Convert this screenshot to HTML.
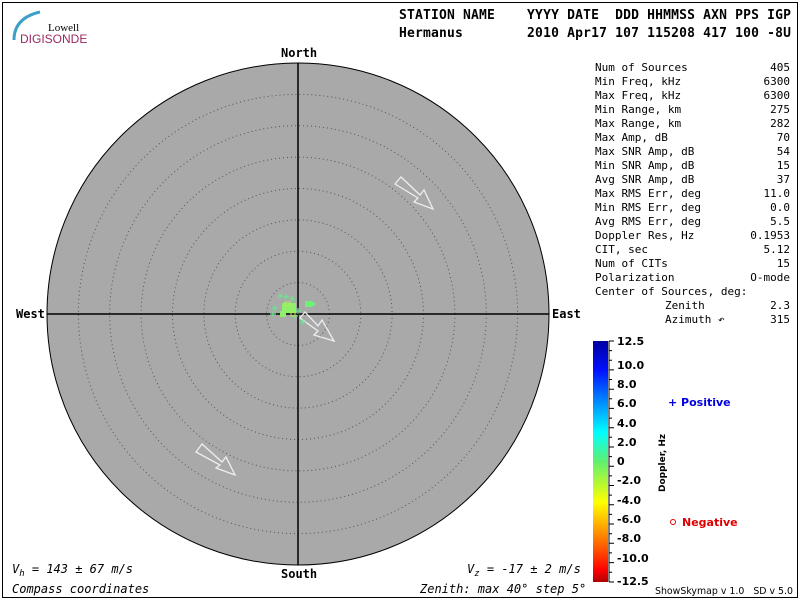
<!DOCTYPE html>
<html><head><style>
body{margin:0;background:#fff;}
svg text{font-family:"DejaVu Sans Mono","Liberation Mono",monospace;}
</style></head><body>
<svg width="800" height="600" xmlns="http://www.w3.org/2000/svg">
<rect x="0" y="0" width="800" height="600" fill="#fff"/>
<rect x="2.5" y="2.5" width="795" height="595" fill="none" stroke="#000" stroke-width="1"/>
<!-- logo -->
<path d="M14 40 Q14 18 40 12" stroke="#3aa0c8" stroke-width="3" fill="none"/>
<text x="48" y="31" font-size="11" fill="#000" style="font-family:'Liberation Serif',serif">Lowell</text>
<text x="20" y="43" font-size="12" fill="#9b2a62" style="font-family:'Liberation Sans',sans-serif">DIGISONDE</text>
<!-- header -->
<text x="399" y="19" font-size="13" font-weight="bold" xml:space="preserve" textLength="392" lengthAdjust="spacing">STATION NAME    YYYY DATE  DDD HHMMSS AXN PPS IGP</text>
<text x="399" y="37" font-size="13" font-weight="bold" xml:space="preserve" textLength="392" lengthAdjust="spacing">Hermanus        2010 Apr17 107 115208 417 100 -8U</text>
<!-- sky circle -->
<circle cx="298" cy="314" r="251" fill="#a9a9a9" stroke="#000" stroke-width="1"/>
<g fill="none" stroke="#555" stroke-width="1" stroke-dasharray="1,3">
<circle cx="298" cy="314" r="31.4"/><circle cx="298" cy="314" r="62.8"/><circle cx="298" cy="314" r="94.1"/>
<circle cx="298" cy="314" r="125.5"/><circle cx="298" cy="314" r="156.9"/><circle cx="298" cy="314" r="188.3"/>
<circle cx="298" cy="314" r="219.6"/>
</g>
<line x1="298" y1="63" x2="298" y2="565" stroke="#000" stroke-width="1.5"/>
<line x1="47" y1="314" x2="549" y2="314" stroke="#000" stroke-width="1.5"/>
<g font-size="12" font-weight="bold">
<text x="281" y="57">North</text>
<text x="281" y="578">South</text>
<text x="16" y="318">West</text>
<text x="552" y="318">East</text>
</g>
<!-- arrows -->
<g fill="none" stroke="#eee" stroke-width="1.3">
<polygon points="395,184 401,177 420,195 424,190 433,209 414,202 418,198"/>
<polygon points="196,452 202,444 222,462 226,457 235,475 216,468 220,465"/>
<polygon points="300,318 305,312 318,326 322,320 334,341 314,335 318,331"/>
</g>
<!-- data points -->
<g stroke="#5ef08a" stroke-width="1">
<path d="M277,296h6M280,293v6 M283,297h6M286,294v6 M289,299h6M292,296v6 M272,308h6M275,305v6 M270,314h6M273,311v6 M295,311h6M298,308v6 M292,316h6M295,313v6 M300,322h6M303,319v6"/>
</g>
<path d="M305,301 h7 l4,3 l-4,3 h-7 z" fill="#6ef07a"/>
<g fill="#8ef06a"><rect x="282" y="303" width="14" height="10"/><rect x="280" y="311" width="6" height="6"/></g>
<g fill="none" stroke="#b6e85a"><rect x="285" y="302" width="5" height="4"/><rect x="291" y="312" width="4" height="4"/></g>
<!-- stats -->
<g font-size="11" xml:space="preserve">
<text x="595" y="71">Num of Sources</text><text x="790" y="71" text-anchor="end">405</text>
<text x="595" y="85">Min Freq, kHz</text><text x="790" y="85" text-anchor="end">6300</text>
<text x="595" y="99">Max Freq, kHz</text><text x="790" y="99" text-anchor="end">6300</text>
<text x="595" y="113">Min Range, km</text><text x="790" y="113" text-anchor="end">275</text>
<text x="595" y="127">Max Range, km</text><text x="790" y="127" text-anchor="end">282</text>
<text x="595" y="141">Max Amp, dB</text><text x="790" y="141" text-anchor="end">70</text>
<text x="595" y="155">Max SNR Amp, dB</text><text x="790" y="155" text-anchor="end">54</text>
<text x="595" y="169">Min SNR Amp, dB</text><text x="790" y="169" text-anchor="end">15</text>
<text x="595" y="183">Avg SNR Amp, dB</text><text x="790" y="183" text-anchor="end">37</text>
<text x="595" y="197">Max RMS Err, deg</text><text x="790" y="197" text-anchor="end">11.0</text>
<text x="595" y="211">Min RMS Err, deg</text><text x="790" y="211" text-anchor="end">0.0</text>
<text x="595" y="225">Avg RMS Err, deg</text><text x="790" y="225" text-anchor="end">5.5</text>
<text x="595" y="239">Doppler Res, Hz</text><text x="790" y="239" text-anchor="end">0.1953</text>
<text x="595" y="253">CIT, sec</text><text x="790" y="253" text-anchor="end">5.12</text>
<text x="595" y="267">Num of CITs</text><text x="790" y="267" text-anchor="end">15</text>
<text x="595" y="281">Polarization</text><text x="790" y="281" text-anchor="end">O-mode</text>
<text x="595" y="295">Center of Sources, deg:</text>
<text x="665" y="309">Zenith</text><text x="790" y="309" text-anchor="end">2.3</text>
<text x="665" y="323">Azimuth ↶</text><text x="790" y="323" text-anchor="end">315</text>
</g>
<!-- colorbar -->
<defs><linearGradient id="cb" x1="0" y1="0" x2="0" y2="1">
<stop offset="0" stop-color="#0000a0"/><stop offset="0.12" stop-color="#0010ff"/>
<stop offset="0.38" stop-color="#00ffff"/><stop offset="0.5" stop-color="#60f070"/>
<stop offset="0.67" stop-color="#ffff00"/><stop offset="0.85" stop-color="#ff6000"/>
<stop offset="0.95" stop-color="#ff0000"/><stop offset="1" stop-color="#b00000"/>
</linearGradient></defs>
<rect x="593" y="341" width="15" height="241" fill="url(#cb)"/>
<line x1="609" y1="341" x2="609" y2="582" stroke="#000"/>
<path d="M609,341h5M609,350.6h3M609,360.3h3M609,369.9h5M609,379.5h3M609,389.2h5M609,398.8h3M609,408.4h5M609,418.1h3M609,427.7h5M609,437.3h3M609,447h5M609,456.6h3M609,466.2h5M609,475.9h3M609,485.5h5M609,495.1h3M609,504.8h5M609,514.4h3M609,524h5M609,533.7h3M609,543.3h5M609,552.9h3M609,562.6h5M609,572.2h3M609,582h5" stroke="#000"/>
<g font-size="11" font-weight="bold">
<text x="617" y="345" style="font-family:'DejaVu Sans',sans-serif">12.5</text>
<text x="617" y="369" style="font-family:'DejaVu Sans',sans-serif">10.0</text>
<text x="617" y="388" style="font-family:'DejaVu Sans',sans-serif">8.0</text>
<text x="617" y="407" style="font-family:'DejaVu Sans',sans-serif">6.0</text>
<text x="617" y="427" style="font-family:'DejaVu Sans',sans-serif">4.0</text>
<text x="617" y="446" style="font-family:'DejaVu Sans',sans-serif">2.0</text>
<text x="617" y="465" style="font-family:'DejaVu Sans',sans-serif">0</text>
<text x="617" y="484" style="font-family:'DejaVu Sans',sans-serif">-2.0</text>
<text x="617" y="504" style="font-family:'DejaVu Sans',sans-serif">-4.0</text>
<text x="617" y="523" style="font-family:'DejaVu Sans',sans-serif">-6.0</text>
<text x="617" y="542" style="font-family:'DejaVu Sans',sans-serif">-8.0</text>
<text x="617" y="562" style="font-family:'DejaVu Sans',sans-serif">-10.0</text>
<text x="617" y="585" style="font-family:'DejaVu Sans',sans-serif">-12.5</text>
</g>
<text transform="translate(665,492) rotate(-90)" font-size="9" font-weight="bold" style="font-family:'DejaVu Sans',sans-serif">Doppler, Hz</text>
<text x="668" y="406" font-size="11" font-weight="bold" fill="#0000e0" style="font-family:'DejaVu Sans',sans-serif">+ Positive</text>
<circle cx="673" cy="522" r="2.5" fill="none" stroke="#e00000"/>
<text x="682" y="526" font-size="11" font-weight="bold" fill="#e00000" style="font-family:'DejaVu Sans',sans-serif">Negative</text>
<text x="655" y="594" font-size="9.5" style="font-family:'DejaVu Sans',sans-serif" xml:space="preserve" textLength="138" lengthAdjust="spacingAndGlyphs">ShowSkymap v 1.0   SD v 5.0</text>
<!-- bottom texts -->
<g font-size="12" font-style="italic">
<text x="12" y="573">V<tspan font-size="9" dy="3">h</tspan><tspan dy="-3"> = 143 ± 67 m/s</tspan></text>
<text x="12" y="593">Compass coordinates</text>
<text x="467" y="573">V<tspan font-size="9" dy="3">z</tspan><tspan dy="-3"> = -17 ± 2 m/s</tspan></text>
<text x="420" y="593">Zenith: max 40°  step 5°</text>
</g>
</svg>
</body></html>
